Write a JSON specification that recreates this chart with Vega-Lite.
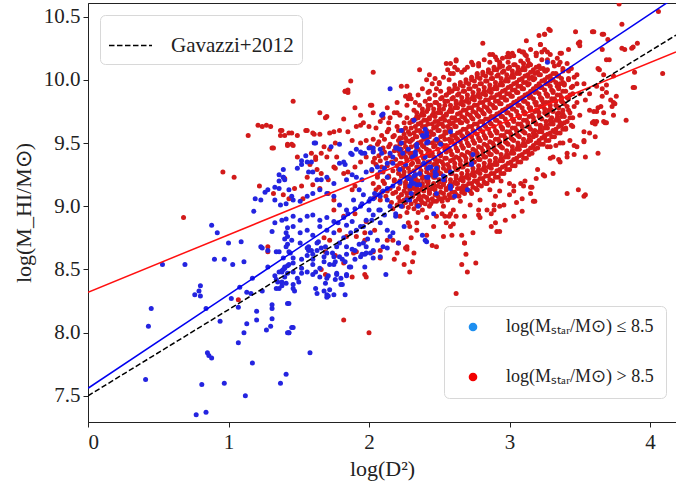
{
"$schema":"https://vega.github.io/schema/vega-lite/v6.json",
"width":588,"height":419,
"autosize":{"type":"none"},
"padding":{"left":88,"top":3,"right":0,"bottom":66},
"background":"white",
"config":{
"view":{"stroke":"#222","strokeWidth":1},
"axis":{"labelFont":"Liberation Serif","labelFontSize":21,"labelColor":"#222","titleFont":"Liberation Serif","titleFontSize":22,"titleColor":"#222","titleFontWeight":"normal","tickColor":"#222","domainColor":"#222","tickSize":5,"grid":false},
"legend":{"labelFont":"Liberation Serif","labelFontSize":21,"labelColor":"#222"}
},
"datasets":{
"red":[
{"x":2.04,"y":9.07},{"x":2.05,"y":9.13},{"x":2.03,"y":9.18},{"x":2.06,"y":9.23},{"x":2.02,"y":9.28},{"x":2.05,"y":9.33},{"x":2.04,"y":9.38},{"x":2.03,"y":9.44},{"x":2.06,"y":9.49},{"x":2.03,"y":9.53},
{"x":2.08,"y":9.05},{"x":2.09,"y":9.11},{"x":2.07,"y":9.15},{"x":2.10,"y":9.20},{"x":2.06,"y":9.25},{"x":2.09,"y":9.31},{"x":2.08,"y":9.36},{"x":2.07,"y":9.40},{"x":2.10,"y":9.46},{"x":2.07,"y":9.51},{"x":2.09,"y":9.56},
{"x":2.12,"y":9.08},{"x":2.13,"y":9.12},{"x":2.11,"y":9.18},{"x":2.14,"y":9.23},{"x":2.10,"y":9.27},{"x":2.13,"y":9.32},{"x":2.12,"y":9.38},{"x":2.11,"y":9.43},{"x":2.14,"y":9.47},{"x":2.11,"y":9.53},{"x":2.13,"y":9.59},
{"x":2.16,"y":9.03},{"x":2.17,"y":9.10},{"x":2.15,"y":9.14},{"x":2.18,"y":9.20},{"x":2.14,"y":9.24},{"x":2.17,"y":9.28},{"x":2.16,"y":9.35},{"x":2.15,"y":9.40},{"x":2.18,"y":9.44},{"x":2.15,"y":9.49},{"x":2.17,"y":9.55},{"x":2.14,"y":9.61},
{"x":2.20,"y":9.01},{"x":2.21,"y":9.07},{"x":2.19,"y":9.11},{"x":2.22,"y":9.18},{"x":2.18,"y":9.21},{"x":2.21,"y":9.26},{"x":2.20,"y":9.32},{"x":2.19,"y":9.37},{"x":2.22,"y":9.41},{"x":2.19,"y":9.47},{"x":2.21,"y":9.52},{"x":2.18,"y":9.56},{"x":2.20,"y":9.63},
{"x":2.24,"y":9.00},{"x":2.25,"y":9.05},{"x":2.23,"y":9.09},{"x":2.26,"y":9.15},{"x":2.22,"y":9.20},{"x":2.25,"y":9.24},{"x":2.24,"y":9.30},{"x":2.23,"y":9.34},{"x":2.26,"y":9.39},{"x":2.23,"y":9.45},{"x":2.25,"y":9.50},{"x":2.22,"y":9.54},{"x":2.24,"y":9.60},{"x":2.25,"y":9.66},
{"x":2.28,"y":8.99},{"x":2.29,"y":9.06},{"x":2.27,"y":9.10},{"x":2.30,"y":9.16},{"x":2.26,"y":9.19},{"x":2.29,"y":9.23},{"x":2.28,"y":9.30},{"x":2.27,"y":9.36},{"x":2.30,"y":9.39},{"x":2.27,"y":9.44},{"x":2.29,"y":9.51},{"x":2.26,"y":9.54},{"x":2.28,"y":9.59},{"x":2.29,"y":9.66},{"x":2.27,"y":9.70},
{"x":2.32,"y":8.98},{"x":2.33,"y":9.04},{"x":2.31,"y":9.08},{"x":2.34,"y":9.13},{"x":2.30,"y":9.18},{"x":2.33,"y":9.22},{"x":2.32,"y":9.28},{"x":2.31,"y":9.34},{"x":2.34,"y":9.37},{"x":2.31,"y":9.42},{"x":2.33,"y":9.48},{"x":2.30,"y":9.52},{"x":2.32,"y":9.58},{"x":2.33,"y":9.63},{"x":2.31,"y":9.67},{"x":2.34,"y":9.71},{"x":2.32,"y":9.76},
{"x":2.36,"y":9.01},{"x":2.37,"y":9.05},{"x":2.35,"y":9.10},{"x":2.38,"y":9.16},{"x":2.34,"y":9.20},{"x":2.37,"y":9.25},{"x":2.36,"y":9.31},{"x":2.35,"y":9.36},{"x":2.38,"y":9.40},{"x":2.35,"y":9.45},{"x":2.37,"y":9.51},{"x":2.34,"y":9.55},{"x":2.36,"y":9.60},{"x":2.37,"y":9.66},{"x":2.35,"y":9.70},{"x":2.38,"y":9.74},{"x":2.36,"y":9.80},
{"x":2.40,"y":9.02},{"x":2.41,"y":9.07},{"x":2.39,"y":9.12},{"x":2.42,"y":9.18},{"x":2.38,"y":9.22},{"x":2.41,"y":9.27},{"x":2.40,"y":9.33},{"x":2.39,"y":9.38},{"x":2.42,"y":9.42},{"x":2.39,"y":9.47},{"x":2.41,"y":9.53},{"x":2.38,"y":9.58},{"x":2.40,"y":9.63},{"x":2.41,"y":9.68},{"x":2.39,"y":9.72},{"x":2.42,"y":9.77},{"x":2.40,"y":9.83},
{"x":2.44,"y":9.02},{"x":2.45,"y":9.06},{"x":2.43,"y":9.11},{"x":2.46,"y":9.16},{"x":2.42,"y":9.20},{"x":2.45,"y":9.25},{"x":2.44,"y":9.30},{"x":2.43,"y":9.35},{"x":2.46,"y":9.39},{"x":2.43,"y":9.44},{"x":2.45,"y":9.50},{"x":2.42,"y":9.55},{"x":2.44,"y":9.59},{"x":2.45,"y":9.65},{"x":2.43,"y":9.69},{"x":2.46,"y":9.74},{"x":2.44,"y":9.80},{"x":2.43,"y":9.85},
{"x":2.48,"y":9.04},{"x":2.49,"y":9.08},{"x":2.47,"y":9.13},{"x":2.50,"y":9.19},{"x":2.46,"y":9.23},{"x":2.49,"y":9.28},{"x":2.48,"y":9.34},{"x":2.47,"y":9.38},{"x":2.50,"y":9.42},{"x":2.47,"y":9.48},{"x":2.49,"y":9.52},{"x":2.46,"y":9.57},{"x":2.48,"y":9.63},{"x":2.49,"y":9.67},{"x":2.47,"y":9.71},{"x":2.50,"y":9.77},{"x":2.48,"y":9.82},{"x":2.47,"y":9.88},
{"x":2.52,"y":9.04},{"x":2.53,"y":9.10},{"x":2.51,"y":9.15},{"x":2.54,"y":9.20},{"x":2.50,"y":9.26},{"x":2.53,"y":9.30},{"x":2.52,"y":9.35},{"x":2.51,"y":9.41},{"x":2.54,"y":9.45},{"x":2.51,"y":9.50},{"x":2.53,"y":9.56},{"x":2.50,"y":9.60},{"x":2.52,"y":9.65},{"x":2.53,"y":9.71},{"x":2.51,"y":9.74},{"x":2.54,"y":9.80},{"x":2.52,"y":9.86},{"x":2.51,"y":9.91},
{"x":2.56,"y":9.05},{"x":2.57,"y":9.09},{"x":2.55,"y":9.14},{"x":2.58,"y":9.18},{"x":2.54,"y":9.23},{"x":2.57,"y":9.29},{"x":2.56,"y":9.33},{"x":2.55,"y":9.38},{"x":2.58,"y":9.44},{"x":2.55,"y":9.48},{"x":2.57,"y":9.53},{"x":2.54,"y":9.59},{"x":2.56,"y":9.63},{"x":2.57,"y":9.67},{"x":2.55,"y":9.73},{"x":2.58,"y":9.77},{"x":2.56,"y":9.83},{"x":2.55,"y":9.88},{"x":2.57,"y":9.93},
{"x":2.60,"y":9.07},{"x":2.61,"y":9.11},{"x":2.59,"y":9.16},{"x":2.62,"y":9.22},{"x":2.58,"y":9.26},{"x":2.61,"y":9.31},{"x":2.60,"y":9.37},{"x":2.59,"y":9.41},{"x":2.62,"y":9.46},{"x":2.59,"y":9.52},{"x":2.61,"y":9.56},{"x":2.58,"y":9.61},{"x":2.60,"y":9.66},{"x":2.61,"y":9.70},{"x":2.59,"y":9.75},{"x":2.62,"y":9.81},{"x":2.60,"y":9.86},{"x":2.59,"y":9.91},{"x":2.61,"y":9.96},
{"x":2.64,"y":9.08},{"x":2.65,"y":9.14},{"x":2.63,"y":9.18},{"x":2.66,"y":9.23},{"x":2.62,"y":9.29},{"x":2.65,"y":9.33},{"x":2.64,"y":9.38},{"x":2.63,"y":9.44},{"x":2.66,"y":9.48},{"x":2.63,"y":9.53},{"x":2.65,"y":9.59},{"x":2.62,"y":9.63},{"x":2.64,"y":9.68},{"x":2.65,"y":9.74},{"x":2.63,"y":9.78},{"x":2.66,"y":9.83},{"x":2.64,"y":9.89},{"x":2.63,"y":9.93},{"x":2.65,"y":9.98},
{"x":2.68,"y":9.10},{"x":2.69,"y":9.16},{"x":2.67,"y":9.20},{"x":2.70,"y":9.25},{"x":2.66,"y":9.31},{"x":2.69,"y":9.35},{"x":2.68,"y":9.40},{"x":2.67,"y":9.46},{"x":2.70,"y":9.50},{"x":2.67,"y":9.55},{"x":2.69,"y":9.61},{"x":2.66,"y":9.66},{"x":2.68,"y":9.70},{"x":2.69,"y":9.76},{"x":2.67,"y":9.80},{"x":2.70,"y":9.85},{"x":2.68,"y":9.91},{"x":2.67,"y":9.95},{"x":2.69,"y":10.00},
{"x":2.72,"y":9.12},{"x":2.73,"y":9.18},{"x":2.71,"y":9.22},{"x":2.74,"y":9.27},{"x":2.70,"y":9.33},{"x":2.73,"y":9.37},{"x":2.72,"y":9.42},{"x":2.71,"y":9.48},{"x":2.74,"y":9.52},{"x":2.71,"y":9.57},{"x":2.73,"y":9.63},{"x":2.70,"y":9.67},{"x":2.72,"y":9.72},{"x":2.73,"y":9.78},{"x":2.71,"y":9.82},{"x":2.74,"y":9.87},{"x":2.72,"y":9.93},{"x":2.71,"y":9.97},{"x":2.73,"y":10.02},
{"x":2.76,"y":9.14},{"x":2.77,"y":9.20},{"x":2.75,"y":9.24},{"x":2.78,"y":9.29},{"x":2.74,"y":9.35},{"x":2.77,"y":9.39},{"x":2.76,"y":9.44},{"x":2.75,"y":9.50},{"x":2.78,"y":9.54},{"x":2.75,"y":9.59},{"x":2.77,"y":9.65},{"x":2.74,"y":9.69},{"x":2.76,"y":9.74},{"x":2.77,"y":9.80},{"x":2.75,"y":9.84},{"x":2.78,"y":9.89},{"x":2.76,"y":9.95},{"x":2.75,"y":9.99},{"x":2.77,"y":10.04},
{"x":2.80,"y":9.16},{"x":2.81,"y":9.22},{"x":2.79,"y":9.26},{"x":2.82,"y":9.31},{"x":2.78,"y":9.37},{"x":2.81,"y":9.41},{"x":2.80,"y":9.46},{"x":2.79,"y":9.52},{"x":2.82,"y":9.56},{"x":2.79,"y":9.61},{"x":2.81,"y":9.67},{"x":2.78,"y":9.71},{"x":2.80,"y":9.76},{"x":2.81,"y":9.82},{"x":2.79,"y":9.86},{"x":2.82,"y":9.91},{"x":2.80,"y":9.97},{"x":2.79,"y":10.01},{"x":2.81,"y":10.06},
{"x":2.84,"y":9.18},{"x":2.85,"y":9.24},{"x":2.83,"y":9.28},{"x":2.86,"y":9.33},{"x":2.82,"y":9.39},{"x":2.85,"y":9.43},{"x":2.84,"y":9.48},{"x":2.83,"y":9.54},{"x":2.86,"y":9.58},{"x":2.83,"y":9.63},{"x":2.85,"y":9.69},{"x":2.82,"y":9.73},{"x":2.84,"y":9.78},{"x":2.85,"y":9.84},{"x":2.83,"y":9.88},{"x":2.86,"y":9.93},{"x":2.84,"y":9.99},{"x":2.83,"y":10.03},{"x":2.85,"y":10.08},
{"x":2.88,"y":9.20},{"x":2.89,"y":9.26},{"x":2.87,"y":9.30},{"x":2.90,"y":9.35},{"x":2.86,"y":9.41},{"x":2.89,"y":9.45},{"x":2.88,"y":9.50},{"x":2.87,"y":9.56},{"x":2.90,"y":9.60},{"x":2.87,"y":9.65},{"x":2.89,"y":9.71},{"x":2.86,"y":9.75},{"x":2.88,"y":9.80},{"x":2.89,"y":9.86},{"x":2.87,"y":9.90},{"x":2.90,"y":9.95},{"x":2.88,"y":10.01},{"x":2.87,"y":10.05},{"x":2.89,"y":10.10},
{"x":2.92,"y":9.23},{"x":2.93,"y":9.29},{"x":2.91,"y":9.33},{"x":2.94,"y":9.38},{"x":2.90,"y":9.44},{"x":2.93,"y":9.48},{"x":2.92,"y":9.53},{"x":2.91,"y":9.59},{"x":2.94,"y":9.63},{"x":2.91,"y":9.68},{"x":2.93,"y":9.74},{"x":2.90,"y":9.78},{"x":2.92,"y":9.83},{"x":2.93,"y":9.89},{"x":2.91,"y":9.93},{"x":2.94,"y":9.98},{"x":2.92,"y":10.04},{"x":2.91,"y":10.08},{"x":2.93,"y":10.12},
{"x":2.96,"y":9.26},{"x":2.97,"y":9.32},{"x":2.95,"y":9.36},{"x":2.98,"y":9.41},{"x":2.94,"y":9.47},{"x":2.97,"y":9.51},{"x":2.96,"y":9.56},{"x":2.95,"y":9.62},{"x":2.98,"y":9.66},{"x":2.95,"y":9.71},{"x":2.97,"y":9.77},{"x":2.94,"y":9.81},{"x":2.96,"y":9.86},{"x":2.97,"y":9.92},{"x":2.95,"y":9.96},{"x":2.98,"y":10.01},{"x":2.96,"y":10.07},{"x":2.95,"y":10.11},
{"x":3.00,"y":9.29},{"x":3.01,"y":9.35},{"x":2.99,"y":9.39},{"x":3.02,"y":9.44},{"x":2.98,"y":9.50},{"x":3.01,"y":9.54},{"x":3.00,"y":9.59},{"x":2.99,"y":9.65},{"x":3.02,"y":9.69},{"x":2.99,"y":9.74},{"x":3.01,"y":9.80},{"x":2.98,"y":9.84},{"x":3.00,"y":9.89},{"x":3.01,"y":9.95},{"x":2.99,"y":9.99},{"x":3.02,"y":10.04},{"x":3.00,"y":10.10},{"x":2.99,"y":10.14},
{"x":3.04,"y":9.32},{"x":3.05,"y":9.38},{"x":3.03,"y":9.42},{"x":3.06,"y":9.47},{"x":3.02,"y":9.53},{"x":3.05,"y":9.57},{"x":3.04,"y":9.62},{"x":3.03,"y":9.68},{"x":3.06,"y":9.72},{"x":3.03,"y":9.77},{"x":3.05,"y":9.83},{"x":3.02,"y":9.87},{"x":3.04,"y":9.92},{"x":3.05,"y":9.98},{"x":3.03,"y":10.02},{"x":3.06,"y":10.07},{"x":3.04,"y":10.12},
{"x":3.08,"y":9.35},{"x":3.09,"y":9.41},{"x":3.07,"y":9.45},{"x":3.10,"y":9.50},{"x":3.06,"y":9.56},{"x":3.09,"y":9.60},{"x":3.08,"y":9.65},{"x":3.07,"y":9.71},{"x":3.10,"y":9.75},{"x":3.07,"y":9.80},{"x":3.09,"y":9.86},{"x":3.06,"y":9.90},{"x":3.08,"y":9.95},{"x":3.09,"y":10.01},{"x":3.07,"y":10.05},{"x":3.10,"y":10.10},{"x":3.08,"y":10.15},
{"x":3.12,"y":9.38},{"x":3.13,"y":9.44},{"x":3.11,"y":9.48},{"x":3.14,"y":9.53},{"x":3.10,"y":9.59},{"x":3.13,"y":9.63},{"x":3.12,"y":9.68},{"x":3.11,"y":9.74},{"x":3.14,"y":9.78},{"x":3.11,"y":9.83},{"x":3.13,"y":9.89},{"x":3.10,"y":9.93},{"x":3.12,"y":9.98},{"x":3.13,"y":10.04},{"x":3.11,"y":10.08},{"x":3.14,"y":10.13},
{"x":3.16,"y":9.42},{"x":3.17,"y":9.48},{"x":3.15,"y":9.52},{"x":3.18,"y":9.57},{"x":3.14,"y":9.63},{"x":3.17,"y":9.67},{"x":3.16,"y":9.72},{"x":3.15,"y":9.78},{"x":3.18,"y":9.82},{"x":3.15,"y":9.87},{"x":3.17,"y":9.93},{"x":3.14,"y":9.97},{"x":3.16,"y":10.02},{"x":3.17,"y":10.08},{"x":3.15,"y":10.12},
{"x":3.20,"y":9.46},{"x":3.21,"y":9.52},{"x":3.19,"y":9.56},{"x":3.22,"y":9.61},{"x":3.18,"y":9.67},{"x":3.21,"y":9.71},{"x":3.20,"y":9.76},{"x":3.19,"y":9.82},{"x":3.22,"y":9.86},{"x":3.19,"y":9.91},{"x":3.21,"y":9.97},{"x":3.18,"y":10.01},{"x":3.20,"y":10.06},{"x":3.21,"y":10.11},
{"x":3.24,"y":9.49},{"x":3.25,"y":9.55},{"x":3.23,"y":9.59},{"x":3.26,"y":9.64},{"x":3.22,"y":9.70},{"x":3.25,"y":9.74},{"x":3.24,"y":9.79},{"x":3.23,"y":9.85},{"x":3.26,"y":9.89},{"x":3.23,"y":9.94},{"x":3.25,"y":10.00},{"x":3.22,"y":10.04},{"x":3.24,"y":10.09},
{"x":3.28,"y":9.52},{"x":3.29,"y":9.58},{"x":3.27,"y":9.62},{"x":3.30,"y":9.67},{"x":3.26,"y":9.73},{"x":3.29,"y":9.77},{"x":3.28,"y":9.82},{"x":3.27,"y":9.88},{"x":3.30,"y":9.92},{"x":3.27,"y":9.97},{"x":3.29,"y":10.03},{"x":3.26,"y":10.07},
{"x":3.32,"y":9.55},{"x":3.33,"y":9.61},{"x":3.31,"y":9.65},{"x":3.34,"y":9.70},{"x":3.30,"y":9.76},{"x":3.33,"y":9.80},{"x":3.32,"y":9.85},{"x":3.31,"y":9.91},{"x":3.34,"y":9.95},{"x":3.31,"y":10.00},{"x":3.33,"y":10.05},
{"x":3.36,"y":9.58},{"x":3.37,"y":9.64},{"x":3.35,"y":9.68},{"x":3.38,"y":9.73},{"x":3.34,"y":9.79},{"x":3.37,"y":9.83},{"x":3.36,"y":9.88},{"x":3.35,"y":9.94},{"x":3.38,"y":9.98},{"x":3.35,"y":10.03},
{"x":3.40,"y":9.61},{"x":3.41,"y":9.67},{"x":3.39,"y":9.71},{"x":3.42,"y":9.76},{"x":3.38,"y":9.82},{"x":3.41,"y":9.86},{"x":3.40,"y":9.91},{"x":3.39,"y":9.97},{"x":3.42,"y":10.01},
{"x":3.44,"y":9.64},{"x":3.45,"y":9.70},{"x":3.43,"y":9.74},{"x":3.46,"y":9.79},{"x":3.42,"y":9.85},{"x":3.45,"y":9.89},{"x":3.44,"y":9.94},
{"x":2.22,"y":9.04},{"x":2.23,"y":9.09},{"x":2.21,"y":9.14},{"x":2.22,"y":9.20},{"x":2.23,"y":9.24},{"x":2.21,"y":9.29},{"x":2.22,"y":9.34},{"x":2.23,"y":9.39},{"x":2.21,"y":9.44},{"x":2.22,"y":9.49},{"x":2.23,"y":9.54},{"x":2.21,"y":9.60},
{"x":2.26,"y":9.03},{"x":2.27,"y":9.07},{"x":2.25,"y":9.12},{"x":2.26,"y":9.17},{"x":2.27,"y":9.22},{"x":2.25,"y":9.27},{"x":2.26,"y":9.32},{"x":2.27,"y":9.37},{"x":2.25,"y":9.42},{"x":2.26,"y":9.47},{"x":2.27,"y":9.52},{"x":2.25,"y":9.57},{"x":2.26,"y":9.62},
{"x":2.30,"y":9.02},{"x":2.31,"y":9.08},{"x":2.29,"y":9.13},{"x":2.30,"y":9.18},{"x":2.31,"y":9.21},{"x":2.29,"y":9.27},{"x":2.30,"y":9.33},{"x":2.31,"y":9.38},{"x":2.29,"y":9.42},{"x":2.30,"y":9.47},{"x":2.31,"y":9.53},{"x":2.29,"y":9.57},{"x":2.30,"y":9.62},{"x":2.31,"y":9.68},
{"x":2.34,"y":9.01},{"x":2.35,"y":9.06},{"x":2.33,"y":9.10},{"x":2.34,"y":9.15},{"x":2.35,"y":9.20},{"x":2.33,"y":9.25},{"x":2.34,"y":9.31},{"x":2.35,"y":9.35},{"x":2.33,"y":9.40},{"x":2.34,"y":9.45},{"x":2.35,"y":9.50},{"x":2.33,"y":9.55},{"x":2.34,"y":9.60},{"x":2.35,"y":9.65},{"x":2.33,"y":9.69},{"x":2.34,"y":9.74},
{"x":2.38,"y":9.03},{"x":2.39,"y":9.08},{"x":2.37,"y":9.13},{"x":2.38,"y":9.18},{"x":2.39,"y":9.23},{"x":2.37,"y":9.28},{"x":2.38,"y":9.33},{"x":2.39,"y":9.38},{"x":2.37,"y":9.43},{"x":2.38,"y":9.48},{"x":2.39,"y":9.53},{"x":2.37,"y":9.58},{"x":2.38,"y":9.63},{"x":2.39,"y":9.68},{"x":2.37,"y":9.72},{"x":2.38,"y":9.77},
{"x":2.42,"y":9.05},{"x":2.43,"y":9.10},{"x":2.41,"y":9.15},{"x":2.42,"y":9.20},{"x":2.43,"y":9.25},{"x":2.41,"y":9.30},{"x":2.42,"y":9.35},{"x":2.43,"y":9.40},{"x":2.41,"y":9.45},{"x":2.42,"y":9.50},{"x":2.43,"y":9.55},{"x":2.41,"y":9.60},{"x":2.42,"y":9.65},{"x":2.43,"y":9.70},{"x":2.41,"y":9.75},{"x":2.42,"y":9.80},
{"x":2.46,"y":9.04},{"x":2.47,"y":9.09},{"x":2.45,"y":9.14},{"x":2.46,"y":9.18},{"x":2.47,"y":9.23},{"x":2.45,"y":9.28},{"x":2.46,"y":9.33},{"x":2.47,"y":9.37},{"x":2.45,"y":9.42},{"x":2.46,"y":9.47},{"x":2.47,"y":9.52},{"x":2.45,"y":9.57},{"x":2.46,"y":9.62},{"x":2.47,"y":9.67},{"x":2.45,"y":9.72},{"x":2.46,"y":9.77},{"x":2.47,"y":9.82},
{"x":2.50,"y":9.06},{"x":2.51,"y":9.11},{"x":2.49,"y":9.16},{"x":2.50,"y":9.21},{"x":2.51,"y":9.26},{"x":2.49,"y":9.31},{"x":2.50,"y":9.36},{"x":2.51,"y":9.40},{"x":2.49,"y":9.45},{"x":2.50,"y":9.50},{"x":2.51,"y":9.55},{"x":2.49,"y":9.60},{"x":2.50,"y":9.65},{"x":2.51,"y":9.69},{"x":2.49,"y":9.74},{"x":2.50,"y":9.80},{"x":2.51,"y":9.85},
{"x":2.54,"y":9.07},{"x":2.55,"y":9.13},{"x":2.53,"y":9.18},{"x":2.54,"y":9.23},{"x":2.55,"y":9.28},{"x":2.53,"y":9.33},{"x":2.54,"y":9.38},{"x":2.55,"y":9.43},{"x":2.53,"y":9.48},{"x":2.54,"y":9.53},{"x":2.55,"y":9.58},{"x":2.53,"y":9.63},{"x":2.54,"y":9.68},{"x":2.55,"y":9.72},{"x":2.53,"y":9.77},{"x":2.54,"y":9.83},{"x":2.55,"y":9.88},
{"x":2.58,"y":9.07},{"x":2.59,"y":9.11},{"x":2.57,"y":9.16},{"x":2.58,"y":9.21},{"x":2.59,"y":9.26},{"x":2.57,"y":9.31},{"x":2.58,"y":9.36},{"x":2.59,"y":9.41},{"x":2.57,"y":9.46},{"x":2.58,"y":9.51},{"x":2.59,"y":9.56},{"x":2.57,"y":9.61},{"x":2.58,"y":9.65},{"x":2.59,"y":9.70},{"x":2.57,"y":9.75},{"x":2.58,"y":9.80},{"x":2.59,"y":9.85},{"x":2.57,"y":9.90},
{"x":2.62,"y":9.09},{"x":2.63,"y":9.14},{"x":2.61,"y":9.19},{"x":2.62,"y":9.24},{"x":2.63,"y":9.29},{"x":2.61,"y":9.34},{"x":2.62,"y":9.39},{"x":2.63,"y":9.44},{"x":2.61,"y":9.49},{"x":2.62,"y":9.54},{"x":2.63,"y":9.58},{"x":2.61,"y":9.63},{"x":2.62,"y":9.68},{"x":2.63,"y":9.73},{"x":2.61,"y":9.78},{"x":2.62,"y":9.83},{"x":2.63,"y":9.88},{"x":2.61,"y":9.93},
{"x":2.66,"y":9.11},{"x":2.67,"y":9.16},{"x":2.65,"y":9.21},{"x":2.66,"y":9.26},{"x":2.67,"y":9.31},{"x":2.65,"y":9.36},{"x":2.66,"y":9.41},{"x":2.67,"y":9.46},{"x":2.65,"y":9.51},{"x":2.66,"y":9.56},{"x":2.67,"y":9.61},{"x":2.65,"y":9.66},{"x":2.66,"y":9.71},{"x":2.67,"y":9.76},{"x":2.65,"y":9.81},{"x":2.66,"y":9.86},{"x":2.67,"y":9.91},{"x":2.65,"y":9.96},
{"x":2.70,"y":9.13},{"x":2.71,"y":9.18},{"x":2.69,"y":9.23},{"x":2.70,"y":9.28},{"x":2.71,"y":9.33},{"x":2.69,"y":9.38},{"x":2.70,"y":9.43},{"x":2.71,"y":9.48},{"x":2.69,"y":9.53},{"x":2.70,"y":9.58},{"x":2.71,"y":9.63},{"x":2.69,"y":9.68},{"x":2.70,"y":9.73},{"x":2.71,"y":9.78},{"x":2.69,"y":9.83},{"x":2.70,"y":9.88},{"x":2.71,"y":9.93},{"x":2.69,"y":9.98},
{"x":2.74,"y":9.15},{"x":2.75,"y":9.20},{"x":2.73,"y":9.25},{"x":2.74,"y":9.30},{"x":2.75,"y":9.35},{"x":2.73,"y":9.40},{"x":2.74,"y":9.45},{"x":2.75,"y":9.50},{"x":2.73,"y":9.55},{"x":2.74,"y":9.60},{"x":2.75,"y":9.65},{"x":2.73,"y":9.70},{"x":2.74,"y":9.75},{"x":2.75,"y":9.80},{"x":2.73,"y":9.85},{"x":2.74,"y":9.90},{"x":2.75,"y":9.95},{"x":2.73,"y":10.00},
{"x":2.78,"y":9.17},{"x":2.79,"y":9.22},{"x":2.77,"y":9.27},{"x":2.78,"y":9.32},{"x":2.79,"y":9.37},{"x":2.77,"y":9.42},{"x":2.78,"y":9.47},{"x":2.79,"y":9.52},{"x":2.77,"y":9.57},{"x":2.78,"y":9.62},{"x":2.79,"y":9.67},{"x":2.77,"y":9.72},{"x":2.78,"y":9.77},{"x":2.79,"y":9.82},{"x":2.77,"y":9.87},{"x":2.78,"y":9.92},{"x":2.79,"y":9.97},{"x":2.77,"y":10.02},
{"x":2.82,"y":9.19},{"x":2.83,"y":9.24},{"x":2.81,"y":9.29},{"x":2.82,"y":9.34},{"x":2.83,"y":9.39},{"x":2.81,"y":9.44},{"x":2.82,"y":9.49},{"x":2.83,"y":9.54},{"x":2.81,"y":9.59},{"x":2.82,"y":9.64},{"x":2.83,"y":9.69},{"x":2.81,"y":9.74},{"x":2.82,"y":9.79},{"x":2.83,"y":9.84},{"x":2.81,"y":9.89},{"x":2.82,"y":9.94},{"x":2.83,"y":9.99},{"x":2.81,"y":10.04},
{"x":2.86,"y":9.21},{"x":2.87,"y":9.26},{"x":2.85,"y":9.31},{"x":2.86,"y":9.36},{"x":2.87,"y":9.41},{"x":2.85,"y":9.46},{"x":2.86,"y":9.51},{"x":2.87,"y":9.56},{"x":2.85,"y":9.61},{"x":2.86,"y":9.66},{"x":2.87,"y":9.71},{"x":2.85,"y":9.76},{"x":2.86,"y":9.81},{"x":2.87,"y":9.86},{"x":2.85,"y":9.91},{"x":2.86,"y":9.96},{"x":2.87,"y":10.01},{"x":2.85,"y":10.06},
{"x":2.90,"y":9.23},{"x":2.91,"y":9.28},{"x":2.89,"y":9.33},{"x":2.90,"y":9.38},{"x":2.91,"y":9.43},{"x":2.89,"y":9.48},{"x":2.90,"y":9.53},{"x":2.91,"y":9.58},{"x":2.89,"y":9.63},{"x":2.90,"y":9.68},{"x":2.91,"y":9.73},{"x":2.89,"y":9.78},{"x":2.90,"y":9.83},{"x":2.91,"y":9.88},{"x":2.89,"y":9.93},{"x":2.90,"y":9.98},{"x":2.91,"y":10.03},{"x":2.89,"y":10.08},
{"x":2.94,"y":9.26},{"x":2.95,"y":9.31},{"x":2.93,"y":9.36},{"x":2.94,"y":9.41},{"x":2.95,"y":9.46},{"x":2.93,"y":9.51},{"x":2.94,"y":9.56},{"x":2.95,"y":9.61},{"x":2.93,"y":9.66},{"x":2.94,"y":9.71},{"x":2.95,"y":9.76},{"x":2.93,"y":9.81},{"x":2.94,"y":9.86},{"x":2.95,"y":9.91},{"x":2.93,"y":9.96},{"x":2.94,"y":10.01},{"x":2.95,"y":10.06},{"x":2.93,"y":10.10},
{"x":2.98,"y":9.29},{"x":2.99,"y":9.34},{"x":2.97,"y":9.39},{"x":2.98,"y":9.44},{"x":2.99,"y":9.49},{"x":2.97,"y":9.54},{"x":2.98,"y":9.59},{"x":2.99,"y":9.64},{"x":2.97,"y":9.69},{"x":2.98,"y":9.74},{"x":2.99,"y":9.79},{"x":2.97,"y":9.84},{"x":2.98,"y":9.89},{"x":2.99,"y":9.94},{"x":2.97,"y":9.99},{"x":2.98,"y":10.04},{"x":2.99,"y":10.09},
{"x":3.02,"y":9.32},{"x":3.03,"y":9.37},{"x":3.01,"y":9.42},{"x":3.02,"y":9.47},{"x":3.03,"y":9.52},{"x":3.01,"y":9.57},{"x":3.02,"y":9.62},{"x":3.03,"y":9.67},{"x":3.01,"y":9.72},{"x":3.02,"y":9.77},{"x":3.03,"y":9.82},{"x":3.01,"y":9.87},{"x":3.02,"y":9.92},{"x":3.03,"y":9.97},{"x":3.01,"y":10.02},{"x":3.02,"y":10.07},{"x":3.03,"y":10.12},
{"x":3.06,"y":9.35},{"x":3.07,"y":9.40},{"x":3.05,"y":9.45},{"x":3.06,"y":9.50},{"x":3.07,"y":9.55},{"x":3.05,"y":9.60},{"x":3.06,"y":9.65},{"x":3.07,"y":9.70},{"x":3.05,"y":9.75},{"x":3.06,"y":9.80},{"x":3.07,"y":9.85},{"x":3.05,"y":9.90},{"x":3.06,"y":9.95},{"x":3.07,"y":10.00},{"x":3.05,"y":10.05},{"x":3.06,"y":10.10},
{"x":3.10,"y":9.38},{"x":3.11,"y":9.43},{"x":3.09,"y":9.48},{"x":3.10,"y":9.53},{"x":3.11,"y":9.58},{"x":3.09,"y":9.63},{"x":3.10,"y":9.68},{"x":3.11,"y":9.73},{"x":3.09,"y":9.78},{"x":3.10,"y":9.83},{"x":3.11,"y":9.88},{"x":3.09,"y":9.93},{"x":3.10,"y":9.98},{"x":3.11,"y":10.03},{"x":3.09,"y":10.08},{"x":3.10,"y":10.13},
{"x":3.14,"y":9.41},{"x":3.15,"y":9.46},{"x":3.13,"y":9.51},{"x":3.14,"y":9.56},{"x":3.15,"y":9.61},{"x":3.13,"y":9.66},{"x":3.14,"y":9.71},{"x":3.15,"y":9.76},{"x":3.13,"y":9.81},{"x":3.14,"y":9.86},{"x":3.15,"y":9.91},{"x":3.13,"y":9.96},{"x":3.14,"y":10.01},{"x":3.15,"y":10.06},{"x":3.13,"y":10.11},
{"x":3.18,"y":9.45},{"x":3.19,"y":9.50},{"x":3.17,"y":9.55},{"x":3.18,"y":9.60},{"x":3.19,"y":9.65},{"x":3.17,"y":9.70},{"x":3.18,"y":9.75},{"x":3.19,"y":9.80},{"x":3.17,"y":9.85},{"x":3.18,"y":9.90},{"x":3.19,"y":9.95},{"x":3.17,"y":10.00},{"x":3.18,"y":10.05},{"x":3.19,"y":10.10},
{"x":3.22,"y":9.49},{"x":3.23,"y":9.54},{"x":3.21,"y":9.59},{"x":3.22,"y":9.64},{"x":3.23,"y":9.69},{"x":3.21,"y":9.74},{"x":3.22,"y":9.79},{"x":3.23,"y":9.84},{"x":3.21,"y":9.89},{"x":3.22,"y":9.94},{"x":3.23,"y":9.99},{"x":3.21,"y":10.04},{"x":3.22,"y":10.09},
{"x":3.26,"y":9.52},{"x":3.27,"y":9.57},{"x":3.25,"y":9.62},{"x":3.26,"y":9.67},{"x":3.27,"y":9.72},{"x":3.25,"y":9.77},{"x":3.26,"y":9.82},{"x":3.27,"y":9.87},{"x":3.25,"y":9.92},{"x":3.26,"y":9.97},{"x":3.27,"y":10.02},{"x":3.25,"y":10.07},
{"x":3.30,"y":9.55},{"x":3.31,"y":9.60},{"x":3.29,"y":9.65},{"x":3.30,"y":9.70},{"x":3.31,"y":9.75},{"x":3.29,"y":9.80},{"x":3.30,"y":9.85},{"x":3.31,"y":9.90},{"x":3.29,"y":9.95},{"x":3.30,"y":10.00},{"x":3.31,"y":10.05},
{"x":3.34,"y":9.58},{"x":3.35,"y":9.63},{"x":3.33,"y":9.68},{"x":3.34,"y":9.73},{"x":3.35,"y":9.78},{"x":3.33,"y":9.83},{"x":3.34,"y":9.88},{"x":3.35,"y":9.93},{"x":3.33,"y":9.98},{"x":3.34,"y":10.03},
{"x":3.38,"y":9.61},{"x":3.39,"y":9.66},{"x":3.37,"y":9.71},{"x":3.38,"y":9.76},{"x":3.39,"y":9.81},{"x":3.37,"y":9.86},{"x":3.38,"y":9.91},{"x":3.39,"y":9.96},{"x":3.37,"y":10.01},
{"x":2.05,"y":9.62},{"x":2.10,"y":9.70},{"x":2.14,"y":9.66},{"x":2.18,"y":9.74},{"x":2.22,"y":9.72},{"x":2.27,"y":9.80},{"x":2.30,"y":9.85},{"x":2.35,"y":9.88},{"x":2.38,"y":9.93},{"x":2.42,"y":9.90},{"x":2.45,"y":9.97},{"x":2.50,"y":9.98},{"x":2.53,"y":10.02},{"x":2.57,"y":10.00},{"x":2.60,"y":10.05},{"x":2.63,"y":10.08},{"x":2.66,"y":10.06},{"x":2.70,"y":10.10},{"x":2.74,"y":10.12},{"x":2.78,"y":10.11},{"x":2.82,"y":10.16},{"x":2.86,"y":10.14},{"x":2.90,"y":10.18},{"x":2.95,"y":10.17},{"x":2.99,"y":10.21},{"x":3.03,"y":10.19},{"x":3.07,"y":10.23},{"x":3.11,"y":10.20},{"x":3.15,"y":10.24},{"x":3.19,"y":10.19},{"x":3.23,"y":10.22},{"x":3.27,"y":10.16},{"x":3.31,"y":10.14},{"x":3.35,"y":10.12},{"x":3.38,"y":10.09},{"x":3.42,"y":10.07},{"x":3.46,"y":10.02},{"x":3.48,"y":9.97},
{"x":2.81,"y":10.29},{"x":3.12,"y":10.31},{"x":3.28,"y":10.40},{"x":3.25,"y":10.36},{"x":3.21,"y":10.35},{"x":3.47,"y":10.38},{"x":3.59,"y":10.38},{"x":3.67,"y":10.36},{"x":3.49,"y":10.29},{"x":3.50,"y":10.27},{"x":3.09,"y":10.22},{"x":3.12,"y":10.19},{"x":3.22,"y":10.28},{"x":3.27,"y":10.22},{"x":3.36,"y":10.21},{"x":3.42,"y":10.24},{"x":3.36,"y":10.14},{"x":2.88,"y":10.20},{"x":2.91,"y":10.16},{"x":2.98,"y":10.18},{"x":3.02,"y":10.21},{"x":2.62,"y":10.16},{"x":2.58,"y":10.13},{"x":2.56,"y":10.08},{"x":2.61,"y":10.10},{"x":2.36,"y":10.08},{"x":2.41,"y":10.00},{"x":2.03,"y":10.06},{"x":1.87,"y":9.99},{"x":1.83,"y":9.91},{"x":1.85,"y":9.92},{"x":2.23,"y":9.95},{"x":2.27,"y":9.95},{"x":2.28,"y":9.85},{"x":2.48,"y":9.93},{"x":2.43,"y":9.91},{"x":2.47,"y":10.01},{"x":2.02,"y":9.80},{"x":1.91,"y":9.63},{"x":1.94,"y":9.64},{"x":1.82,"y":9.69},{"x":1.90,"y":9.78},
{"x":2.55,"y":10.13},{"x":2.62,"y":10.15},{"x":2.73,"y":10.14},{"x":2.78,"y":10.13},{"x":2.86,"y":10.20},{"x":2.93,"y":10.14},{"x":3.00,"y":10.18},{"x":3.10,"y":10.22},{"x":3.13,"y":10.16},{"x":3.19,"y":10.21},{"x":2.43,"y":10.04},{"x":2.50,"y":9.97},{"x":2.58,"y":10.05},{"x":2.68,"y":10.08},{"x":2.77,"y":10.05},
{"x":2.86,"y":9.13},{"x":2.90,"y":9.08},{"x":2.93,"y":9.12},{"x":3.00,"y":9.09},{"x":2.96,"y":9.01},{"x":3.03,"y":9.16},{"x":2.89,"y":9.01},{"x":2.79,"y":9.05},{"x":2.73,"y":9.10},{"x":2.65,"y":9.04},{"x":2.72,"y":9.01},{"x":2.60,"y":8.97},{"x":2.53,"y":9.00},{"x":2.48,"y":8.92},{"x":2.41,"y":8.91},{"x":2.52,"y":8.94},{"x":2.58,"y":8.94},{"x":2.67,"y":9.13},{"x":2.77,"y":9.13},{"x":2.83,"y":9.18},{"x":3.00,"y":9.18},{"x":3.08,"y":9.18},{"x":2.34,"y":8.87},{"x":2.29,"y":8.84},{"x":2.38,"y":8.97},{"x":2.43,"y":9.00},{"x":2.55,"y":8.87},{"x":2.46,"y":8.84},{"x":2.79,"y":8.91},{"x":2.84,"y":8.97},{"x":2.68,"y":8.92},{"x":2.62,"y":9.09},{"x":2.52,"y":9.06},{"x":2.43,"y":9.13},{"x":2.36,"y":9.08},{"x":2.32,"y":9.14},{"x":3.15,"y":9.10},{"x":3.11,"y":9.20},{"x":2.94,"y":9.20},{"x":2.77,"y":9.19},{"x":2.62,"y":9.18},{"x":2.53,"y":9.17},{"x":2.41,"y":9.20},
{"x":3.18,"y":9.04},{"x":3.10,"y":9.16},{"x":3.15,"y":9.15},{"x":3.05,"y":9.03},{"x":3.09,"y":8.96},{"x":2.97,"y":8.89},{"x":2.93,"y":8.80},{"x":2.90,"y":8.87},{"x":2.87,"y":8.94},{"x":2.78,"y":8.93},{"x":2.78,"y":8.97},{"x":2.76,"y":8.55},{"x":2.70,"y":8.48},{"x":2.66,"y":8.54},{"x":2.69,"y":8.62},{"x":2.68,"y":8.71},{"x":2.66,"y":8.77},{"x":2.59,"y":8.77},{"x":2.60,"y":8.86},{"x":2.45,"y":8.69},{"x":2.62,"y":8.31},{"x":2.31,"y":8.56},{"x":2.29,"y":8.48},{"x":2.57,"y":8.92},{"x":2.54,"y":8.92},
{"x":3.17,"y":9.04},{"x":3.09,"y":9.06},{"x":3.03,"y":8.92},{"x":2.91,"y":8.80},{"x":2.87,"y":8.84},{"x":2.74,"y":8.79},{"x":2.68,"y":8.71},{"x":2.53,"y":8.76},{"x":2.48,"y":8.68},{"x":2.27,"y":8.68},{"x":2.41,"y":8.77},{"x":2.58,"y":8.84},{"x":2.62,"y":8.92},{"x":2.89,"y":8.97},{"x":2.93,"y":9.00},{"x":3.03,"y":9.12},{"x":3.19,"y":9.22},{"x":3.24,"y":9.25},{"x":3.31,"y":9.26},{"x":3.36,"y":9.35},{"x":3.41,"y":9.39},{"x":3.48,"y":9.47},{"x":3.53,"y":9.52},{"x":3.57,"y":9.58},
{"x":2.27,"y":8.66},{"x":2.25,"y":8.54},{"x":2.18,"y":8.58},{"x":2.08,"y":8.59},{"x":2.21,"y":8.71},{"x":2.17,"y":8.73},{"x":1.97,"y":8.73},{"x":2.03,"y":8.64},{"x":1.88,"y":8.44},{"x":1.82,"y":8.10},{"x":2.00,"y":8.00},{"x":1.97,"y":8.46},{"x":1.98,"y":8.44},{"x":1.76,"y":8.61},{"x":1.66,"y":8.50},{"x":1.69,"y":8.46},{"x":1.82,"y":8.55},{"x":1.91,"y":8.64},{"x":1.89,"y":8.63},{"x":1.69,"y":8.64},
{"x":3.41,"y":9.10},{"x":3.49,"y":9.13},{"x":3.54,"y":9.09},{"x":3.63,"y":9.42},{"x":3.46,"y":9.41},{"x":3.35,"y":9.37},{"x":3.31,"y":9.39},{"x":3.83,"y":9.68},{"x":3.62,"y":9.67},{"x":3.68,"y":9.66},{"x":3.62,"y":9.75},{"x":3.74,"y":9.82},{"x":3.76,"y":9.87},{"x":3.74,"y":10.03},{"x":3.67,"y":10.04},{"x":3.63,"y":10.09},{"x":3.69,"y":10.16},{"x":3.88,"y":9.94},{"x":4.09,"y":10.05},{"x":3.80,"y":10.25},{"x":3.82,"y":10.24},{"x":3.91,"y":10.29},{"x":3.88,"y":10.26},{"x":4.06,"y":10.54},{"x":3.78,"y":10.60},
{"x":3.80,"y":10.44},{"x":3.60,"y":10.38},{"x":3.66,"y":10.36},{"x":3.70,"y":10.32},{"x":3.25,"y":10.36},{"x":3.29,"y":10.39},{"x":3.50,"y":10.30},{"x":3.87,"y":10.25},{"x":3.66,"y":10.24},{"x":3.71,"y":10.16},{"x":3.64,"y":10.08},{"x":3.89,"y":10.06},{"x":3.89,"y":9.94},{"x":3.69,"y":9.96},{"x":3.66,"y":9.93},{"x":3.69,"y":9.90},{"x":3.75,"y":9.81},{"x":3.73,"y":9.79},{"x":3.67,"y":9.67},{"x":3.60,"y":9.67},{"x":3.61,"y":9.65},{"x":3.65,"y":9.79},{"x":3.60,"y":9.75},
{"x":3.46,"y":9.48},{"x":3.41,"y":9.42},{"x":3.54,"y":9.39},{"x":3.29,"y":9.38},{"x":3.25,"y":9.24},{"x":3.20,"y":9.29},{"x":3.16,"y":9.15},{"x":3.53,"y":9.08},{"x":3.33,"y":9.48},{"x":3.38,"y":9.50},{"x":3.27,"y":9.47},
{"x":3.22,"y":10.28},{"x":3.25,"y":10.24},{"x":3.19,"y":10.21},{"x":3.29,"y":10.20},{"x":3.23,"y":10.16},{"x":3.34,"y":10.17},{"x":3.37,"y":10.21},{"x":3.41,"y":10.13},{"x":3.32,"y":10.11},{"x":3.27,"y":10.08},{"x":3.38,"y":10.07},{"x":3.44,"y":10.09},{"x":3.48,"y":10.04},{"x":3.42,"y":10.00},{"x":3.36,"y":9.97},{"x":3.29,"y":9.99},{"x":3.22,"y":9.95},{"x":3.45,"y":9.95},{"x":3.53,"y":9.97},{"x":3.50,"y":9.89},{"x":3.43,"y":9.88},{"x":3.37,"y":9.85},{"x":3.31,"y":9.84},{"x":3.24,"y":9.82},{"x":3.19,"y":9.76},{"x":3.28,"y":9.76},{"x":3.35,"y":9.74},{"x":3.41,"y":9.79},{"x":3.48,"y":9.82},{"x":3.54,"y":9.84},{"x":3.57,"y":9.89},{"x":3.62,"y":9.95},{"x":3.66,"y":9.87},{"x":3.72,"y":9.84},{"x":3.63,"y":9.78},{"x":3.57,"y":9.76},{"x":3.50,"y":9.72},{"x":3.43,"y":9.70},{"x":3.36,"y":9.66},{"x":3.29,"y":9.68},{"x":3.22,"y":9.63},{"x":3.17,"y":9.58},{"x":3.25,"y":9.56},{"x":3.32,"y":9.59},{"x":3.40,"y":9.62},{"x":3.45,"y":9.63},{"x":3.53,"y":9.59},{"x":3.59,"y":9.66},{"x":3.67,"y":9.74},{"x":3.74,"y":9.72},{"x":3.69,"y":9.66},{"x":3.61,"y":9.55},{"x":3.53,"y":9.51},{"x":3.43,"y":9.52},{"x":3.36,"y":9.50},{"x":3.29,"y":9.47},{"x":3.21,"y":9.50},
{"x":0.68,"y":8.91},{"x":0.96,"y":9.27},{"x":1.04,"y":9.23},{"x":1.14,"y":9.56},{"x":1.27,"y":9.64},{"x":1.30,"y":9.63},{"x":1.37,"y":9.60},{"x":1.31,"y":9.46},{"x":1.42,"y":9.49},{"x":1.22,"y":9.16},{"x":1.40,"y":9.22},{"x":1.43,"y":9.06},{"x":1.28,"y":8.68},{"x":1.28,"y":8.64},{"x":1.07,"y":8.26},{"x":1.46,"y":9.83},{"x":1.65,"y":9.74},{"x":1.69,"y":9.70},{"x":1.21,"y":9.64},{"x":1.24,"y":9.63},{"x":1.37,"y":9.56},{"x":1.40,"y":9.56},{"x":1.43,"y":9.58},{"x":1.49,"y":9.56},{"x":1.55,"y":9.60},{"x":1.61,"y":9.57},{"x":1.65,"y":9.57},{"x":1.32,"y":9.46},{"x":1.42,"y":9.48},{"x":1.46,"y":9.48},{"x":1.32,"y":9.10},
{"x":1.49,"y":9.39},{"x":1.59,"y":9.42},{"x":1.62,"y":9.39},{"x":1.58,"y":9.33},{"x":1.63,"y":9.29},{"x":1.66,"y":9.26},{"x":1.71,"y":9.21},{"x":1.75,"y":9.31},{"x":1.77,"y":9.39},{"x":1.72,"y":9.45},{"x":1.68,"y":9.47},{"x":1.76,"y":9.50},{"x":1.65,"y":9.14},{"x":1.71,"y":9.10},{"x":1.75,"y":9.05},{"x":1.60,"y":9.17},{"x":1.56,"y":9.23},
{"x":1.83,"y":9.91},{"x":1.85,"y":9.90},{"x":1.70,"y":9.71},{"x":1.56,"y":9.60},{"x":1.60,"y":9.58},{"x":1.45,"y":9.58},{"x":1.38,"y":9.60},{"x":1.45,"y":9.49},{"x":1.72,"y":9.58},{"x":1.75,"y":9.59},{"x":1.79,"y":9.60},{"x":1.85,"y":9.59},{"x":1.94,"y":9.72},{"x":2.01,"y":9.80},{"x":2.03,"y":9.74},{"x":1.96,"y":9.66},{"x":2.00,"y":9.63},{"x":1.88,"y":9.52},{"x":1.66,"y":9.42},{"x":1.70,"y":9.39},{"x":1.62,"y":9.37},{"x":1.47,"y":9.14},{"x":1.52,"y":9.16},{"x":1.39,"y":9.09},{"x":1.53,"y":9.06},{"x":1.82,"y":9.26},{"x":1.85,"y":9.27},{"x":1.76,"y":9.30},{"x":1.90,"y":9.16},{"x":1.88,"y":9.13},
{"x":2.13,"y":9.78},{"x":2.20,"y":9.82},{"x":2.26,"y":9.87},{"x":2.29,"y":9.88},{"x":2.33,"y":9.82},{"x":2.15,"y":9.70},{"x":2.20,"y":9.74},{"x":2.08,"y":9.67},
{"x":2.34,"y":8.81},{"x":2.30,"y":8.75},{"x":2.26,"y":8.67},{"x":2.32,"y":8.63},{"x":2.20,"y":8.63},{"x":2.13,"y":8.73},{"x":2.04,"y":8.81},{"x":1.97,"y":8.79},{"x":1.91,"y":8.76},{"x":1.84,"y":8.76},{"x":1.79,"y":8.81},{"x":1.72,"y":8.73},{"x":1.68,"y":8.75},{"x":2.08,"y":8.65},{"x":1.98,"y":8.88},{"x":1.90,"y":8.94},{"x":1.82,"y":8.92},{"x":1.75,"y":8.97},{"x":2.17,"y":8.98},{"x":2.22,"y":8.92},{"x":2.28,"y":8.87},
{"x":1.98,"y":9.39},{"x":1.94,"y":9.35},{"x":1.90,"y":9.31},{"x":2.03,"y":9.35},{"x":1.98,"y":9.52},{"x":2.01,"y":9.47},{"x":1.94,"y":9.50},{"x":2.35,"y":8.95},{"x":2.27,"y":8.95}
],
"blue":[
{"x":0.88,"y":8.85},{"x":0.92,"y":8.79},{"x":1.00,"y":8.71},{"x":1.09,"y":8.72},{"x":0.53,"y":8.54},{"x":0.69,"y":8.54},{"x":0.90,"y":8.58},{"x":0.97,"y":8.58},{"x":1.03,"y":8.54},{"x":1.11,"y":8.56},{"x":0.80,"y":8.37},{"x":0.76,"y":8.30},{"x":0.79,"y":8.33},{"x":0.80,"y":8.29},
{"x":0.45,"y":8.19},{"x":0.43,"y":8.05},{"x":0.84,"y":8.19},{"x":1.02,"y":8.27},{"x":1.08,"y":8.36},{"x":1.07,"y":8.20},{"x":0.94,"y":8.09},{"x":1.13,"y":8.07},{"x":1.11,"y":8.00},{"x":1.07,"y":7.92},{"x":1.13,"y":8.32},{"x":1.16,"y":8.31},{"x":1.17,"y":8.43},{"x":1.20,"y":8.17},{"x":1.20,"y":8.10},{"x":1.24,"y":8.33},{"x":1.28,"y":8.52},{"x":1.27,"y":8.02},{"x":1.30,"y":8.05},{"x":1.31,"y":8.11},{"x":1.31,"y":8.19},{"x":1.31,"y":8.22},{"x":1.33,"y":8.45},{"x":1.35,"y":8.40},{"x":1.36,"y":8.35},{"x":0.85,"y":7.84},{"x":0.86,"y":7.82},{"x":0.88,"y":7.80},{"x":0.41,"y":7.63},{"x":0.81,"y":7.59},{"x":0.97,"y":7.60},{"x":1.17,"y":7.76},{"x":1.12,"y":7.50},{"x":0.77,"y":7.35},{"x":0.84,"y":7.37},{"x":1.37,"y":7.60},{"x":1.41,"y":7.67},{"x":1.42,"y":8.00},{"x":1.42,"y":8.23},
{"x":1.18,"y":8.96},{"x":1.23,"y":9.05},{"x":1.26,"y":9.11},{"x":1.33,"y":9.05},{"x":1.36,"y":9.14},{"x":1.36,"y":9.20},{"x":1.39,"y":9.23},{"x":1.37,"y":9.01},{"x":1.33,"y":8.87},{"x":1.38,"y":8.89},{"x":1.41,"y":8.90},{"x":1.31,"y":8.80},{"x":1.23,"y":8.68},{"x":1.24,"y":8.67},{"x":1.28,"y":8.65},{"x":1.34,"y":8.64},{"x":1.40,"y":8.74},{"x":1.42,"y":8.76},{"x":1.38,"y":8.49},{"x":1.40,"y":8.51},{"x":1.42,"y":8.53},{"x":1.41,"y":8.39},{"x":1.34,"y":8.35},{"x":1.42,"y":8.70},{"x":1.42,"y":8.83},
{"x":1.34,"y":8.42},{"x":1.38,"y":8.40},{"x":1.40,"y":8.44},{"x":1.42,"y":8.47},{"x":1.36,"y":8.48},{"x":1.43,"y":8.00},{"x":1.46,"y":8.04},{"x":1.58,"y":7.84},
{"x":1.45,"y":8.73},{"x":1.41,"y":8.68},{"x":1.36,"y":8.64},{"x":1.39,"y":8.59},{"x":1.44,"y":8.63},{"x":1.40,"y":8.52},{"x":1.46,"y":8.55},{"x":1.52,"y":8.58},{"x":1.56,"y":8.61},{"x":1.59,"y":8.65},{"x":1.63,"y":8.71},{"x":1.66,"y":8.67},{"x":1.70,"y":8.63},{"x":1.75,"y":8.60},{"x":1.77,"y":8.68},{"x":1.72,"y":8.54},{"x":1.62,"y":8.48},{"x":1.65,"y":8.44},{"x":1.69,"y":8.39},{"x":1.72,"y":8.34},{"x":1.71,"y":8.29},{"x":1.75,"y":8.30},{"x":1.77,"y":8.47},{"x":1.52,"y":8.47},{"x":1.50,"y":8.40},{"x":1.46,"y":8.38},{"x":1.49,"y":8.43},{"x":1.56,"y":8.67},{"x":1.60,"y":8.58},{"x":1.68,"y":8.56},{"x":1.64,"y":8.72},
{"x":1.61,"y":9.50},{"x":1.55,"y":9.40},{"x":1.52,"y":9.36},{"x":1.59,"y":9.35},{"x":1.39,"y":9.29},{"x":1.36,"y":9.25},{"x":1.33,"y":9.15},{"x":1.45,"y":9.08},{"x":1.28,"y":9.13},{"x":1.19,"y":9.06},
{"x":1.62,"y":9.50},{"x":1.73,"y":9.47},{"x":1.79,"y":9.49},{"x":1.52,"y":9.33},{"x":1.56,"y":9.35},{"x":1.49,"y":9.30},{"x":1.57,"y":9.27},{"x":1.60,"y":9.27},{"x":1.63,"y":9.21},{"x":1.66,"y":9.21},{"x":1.70,"y":9.23},{"x":1.75,"y":9.18},{"x":1.79,"y":9.34},{"x":1.83,"y":9.33},{"x":1.88,"y":9.41},{"x":1.91,"y":9.45},{"x":1.95,"y":9.42},{"x":2.00,"y":9.46},{"x":2.03,"y":9.43},{"x":2.08,"y":9.45},{"x":2.09,"y":9.72},{"x":1.91,"y":9.23},{"x":1.95,"y":9.21},{"x":1.88,"y":9.25},{"x":1.84,"y":9.21},{"x":1.98,"y":9.27},{"x":2.02,"y":9.29},{"x":2.06,"y":9.31},{"x":2.08,"y":9.27},{"x":2.13,"y":9.23},{"x":2.11,"y":9.30},{"x":2.17,"y":9.34},{"x":2.22,"y":9.29},{"x":2.26,"y":9.33},{"x":2.20,"y":9.46},{"x":2.23,"y":9.50},{"x":2.15,"y":9.42},
{"x":1.93,"y":9.13},{"x":1.96,"y":9.09},{"x":2.01,"y":9.06},{"x":2.04,"y":9.10},{"x":2.08,"y":9.08},{"x":2.13,"y":9.05},{"x":1.89,"y":9.05},{"x":1.94,"y":9.00},{"x":2.00,"y":8.97},{"x":2.07,"y":8.97},{"x":1.84,"y":8.97},{"x":1.79,"y":9.01},{"x":1.75,"y":9.08},{"x":1.70,"y":9.10},{"x":1.65,"y":9.13},{"x":1.60,"y":9.10},{"x":1.56,"y":9.08},{"x":1.51,"y":9.04},{"x":1.46,"y":9.05},{"x":1.41,"y":9.02},{"x":1.46,"y":8.92},{"x":1.51,"y":8.89},{"x":1.56,"y":8.92},{"x":1.60,"y":8.93},{"x":1.65,"y":8.89},{"x":1.70,"y":8.91},{"x":1.75,"y":8.88},{"x":1.78,"y":8.87},{"x":1.84,"y":8.85},{"x":1.88,"y":8.88},{"x":1.94,"y":8.84},{"x":1.98,"y":8.89},{"x":2.03,"y":8.93},{"x":2.08,"y":8.87},{"x":2.13,"y":8.81},{"x":2.17,"y":8.79},{"x":2.01,"y":8.79},{"x":2.06,"y":8.73},{"x":2.10,"y":8.68},{"x":1.96,"y":8.71},{"x":1.90,"y":8.65},{"x":1.84,"y":8.68},{"x":1.79,"y":8.71},{"x":1.75,"y":8.79},{"x":1.70,"y":8.81},{"x":1.65,"y":8.84},{"x":1.60,"y":8.77},{"x":1.56,"y":8.81},{"x":1.51,"y":8.79},{"x":1.46,"y":8.84},{"x":1.41,"y":8.79},{"x":1.51,"y":8.71},{"x":1.57,"y":8.68},{"x":1.63,"y":8.65},{"x":1.69,"y":8.68},{"x":1.74,"y":8.63},{"x":1.79,"y":8.60},{"x":1.84,"y":8.62},{"x":1.94,"y":8.60},{"x":1.98,"y":8.63},{"x":2.03,"y":8.65},{"x":2.08,"y":8.60},{"x":2.13,"y":8.67},{"x":2.15,"y":8.76},{"x":2.21,"y":8.71},{"x":2.25,"y":8.84},{"x":2.19,"y":8.94},{"x":2.23,"y":9.00},{"x":2.27,"y":9.05},{"x":2.30,"y":9.10},{"x":2.30,"y":9.18},{"x":2.28,"y":9.22},{"x":1.39,"y":9.23},{"x":1.40,"y":9.21},{"x":1.43,"y":9.13},
{"x":1.43,"y":8.23},{"x":1.45,"y":8.04},{"x":1.43,"y":8.00},{"x":1.83,"y":8.30},{"x":1.81,"y":8.38},{"x":1.70,"y":8.28},{"x":1.70,"y":8.30},{"x":1.68,"y":8.33},{"x":1.63,"y":8.31},{"x":1.62,"y":8.35},{"x":1.47,"y":8.33},{"x":1.46,"y":8.35},{"x":1.38,"y":8.37},{"x":1.43,"y":8.54},{"x":1.39,"y":8.50},{"x":1.38,"y":8.48},{"x":1.46,"y":8.48},{"x":1.52,"y":8.51},{"x":1.56,"y":8.48},{"x":1.60,"y":8.46},{"x":1.65,"y":8.51},{"x":1.60,"y":8.54},{"x":1.68,"y":8.60},{"x":1.76,"y":8.56},{"x":1.75,"y":8.54},{"x":1.77,"y":8.46},{"x":1.80,"y":8.43},{"x":1.84,"y":8.46},{"x":1.70,"y":8.43},{"x":1.71,"y":8.45},{"x":1.76,"y":8.42},{"x":1.81,"y":8.58},{"x":1.83,"y":8.56},{"x":1.86,"y":8.52},{"x":1.97,"y":8.52},{"x":1.97,"y":8.62},{"x":2.03,"y":8.59},{"x":2.01,"y":8.63},{"x":2.12,"y":8.46},{"x":1.60,"y":8.62},{"x":1.57,"y":8.65},{"x":1.46,"y":8.59},{"x":1.43,"y":8.64},
{"x":1.80,"y":8.38},{"x":1.84,"y":8.45},{"x":1.87,"y":8.52},{"x":2.41,"y":8.72},{"x":1.90,"y":8.58},{"x":1.95,"y":8.62},{"x":1.93,"y":8.70},{"x":1.98,"y":8.68},{"x":1.88,"y":8.66},{"x":1.99,"y":8.74},
{"x":2.32,"y":9.68},{"x":2.40,"y":9.61},{"x":2.38,"y":9.56},{"x":2.41,"y":9.56},{"x":2.41,"y":9.50},{"x":2.48,"y":9.53},{"x":2.51,"y":9.49},{"x":2.58,"y":9.59},{"x":2.34,"y":9.47},{"x":2.33,"y":9.43},{"x":2.31,"y":9.39},{"x":2.40,"y":9.39},{"x":2.44,"y":9.31},{"x":2.39,"y":9.34},{"x":2.42,"y":9.30},{"x":2.47,"y":9.27},{"x":2.48,"y":9.30},{"x":2.32,"y":9.24},{"x":2.36,"y":9.26},{"x":2.47,"y":9.24},{"x":2.41,"y":9.23},{"x":2.32,"y":9.18},{"x":2.34,"y":9.17},{"x":2.58,"y":9.16},{"x":2.73,"y":9.34},{"x":2.74,"y":9.41},{"x":2.70,"y":9.13},{"x":2.53,"y":9.24},
{"x":2.15,"y":9.93},{"x":2.10,"y":9.73},{"x":2.41,"y":9.58},{"x":2.39,"y":9.55},{"x":2.42,"y":9.51},{"x":2.34,"y":9.49},{"x":2.28,"y":9.45},{"x":2.24,"y":9.42},{"x":2.23,"y":9.60},{"x":2.33,"y":9.41},{"x":2.19,"y":9.46},{"x":2.22,"y":9.45},{"x":2.17,"y":9.39},{"x":2.09,"y":9.42},{"x":2.13,"y":9.34},{"x":2.03,"y":9.46},{"x":1.97,"y":9.42},{"x":1.94,"y":9.43},{"x":1.87,"y":9.42},{"x":1.82,"y":9.35},{"x":2.73,"y":9.33},{"x":2.58,"y":9.27},{"x":2.53,"y":9.21},{"x":2.48,"y":9.25},{"x":2.43,"y":9.31},{"x":2.42,"y":9.23},{"x":2.33,"y":9.25},{"x":2.30,"y":9.21},{"x":2.36,"y":9.17},{"x":2.29,"y":9.16},{"x":2.22,"y":9.19},{"x":2.17,"y":9.16},{"x":2.13,"y":9.14},{"x":2.10,"y":9.12},{"x":2.07,"y":9.09},{"x":2.03,"y":9.06},{"x":2.00,"y":9.04},{"x":1.95,"y":9.02},{"x":1.90,"y":8.98},{"x":1.85,"y":8.94},{"x":1.82,"y":8.91},{"x":2.15,"y":9.00},{"x":2.19,"y":8.92},{"x":2.11,"y":8.93},{"x":2.08,"y":8.97},{"x":2.02,"y":8.89},{"x":1.96,"y":8.84},{"x":1.91,"y":8.81},{"x":1.87,"y":8.79},{"x":1.82,"y":8.75},{"x":2.29,"y":9.05},{"x":2.58,"y":9.14},{"x":2.61,"y":9.08},{"x":2.48,"y":9.10},{"x":2.38,"y":8.77},{"x":2.40,"y":8.73},{"x":2.46,"y":8.94},{"x":2.35,"y":9.00},{"x":3.27,"y":10.14}
],
"fitb":[{"x":0,"y":7.56},{"x":4.185,"y":10.657}],
"fitr":[{"x":0,"y":8.32},{"x":4.185,"y":10.22}],
"gav":[{"x":0,"y":7.5},{"x":4.185,"y":10.354}]
},
"layer":[
{"data":{"name":"red"},"mark":{"type":"circle","size":25,"opacity":1,"color":"#d21a1a","clip":true},
"encoding":{
"x":{"field":"x","type":"quantitative","scale":{"domain":[0,4.185],"nice":false,"zero":false},"axis":{"values":[0,1,2,3,4],"format":"d","title":"log(D²)","labelPadding":4,"titlePadding":6}},
"y":{"field":"y","type":"quantitative","scale":{"domain":[7.293,10.608],"nice":false,"zero":false},"axis":{"values":[7.5,8,8.5,9,9.5,10,10.5],"format":".1f","title":"log(M_HI/M⊙)","labelPadding":3,"titlePadding":8}}
}},
{"data":{"name":"blue"},"mark":{"type":"circle","size":25,"opacity":1,"color":"#2424e0","clip":true},
"encoding":{
"x":{"field":"x","type":"quantitative"},
"y":{"field":"y","type":"quantitative"}
}},
{"data":{"name":"blue"},"transform":[{"filter":"datum.x < -5"}],"mark":{"type":"circle","clip":true},
"encoding":{
"x":{"field":"x","type":"quantitative"},
"y":{"field":"y","type":"quantitative"},
"color":{"datum":"log(Mₛₜₐᵣ/M⊙) ≤ 8.5","type":"nominal","scale":{"domain":["log(Mₛₜₐᵣ/M⊙) ≤ 8.5","log(Mₛₜₐᵣ/M⊙) > 8.5"],"range":["#1e8ff0","#f20000"]},
"legend":{"orient":"none","legendX":356,"legendY":303,"title":null,"fillColor":"white","strokeColor":"#d8d8d8","cornerRadius":5,"padding":12,"symbolType":"circle","symbolSize":75,"symbolOffset":8,"labelOffset":24,"rowPadding":32,"labelLimit":400,"labelFontSize":18,"symbolOpacity":1,"symbolStrokeWidth":0}}
}},
{"data":{"name":"fitr"},"mark":{"type":"line","color":"#ff1010","strokeWidth":1.5,"clip":true},
"encoding":{"x":{"field":"x","type":"quantitative"},"y":{"field":"y","type":"quantitative"}}},
{"data":{"name":"fitb"},"mark":{"type":"line","color":"#0000f0","strokeWidth":1.5,"clip":true},
"encoding":{"x":{"field":"x","type":"quantitative"},"y":{"field":"y","type":"quantitative"}}},
{"data":{"name":"gav"},"mark":{"type":"line","color":"black","strokeWidth":1.5,"clip":true},
"encoding":{"x":{"field":"x","type":"quantitative"},"y":{"field":"y","type":"quantitative"},
"strokeDash":{"datum":"Gavazzi+2012","type":"nominal","scale":{"domain":["Gavazzi+2012"],"range":[[5.5,2.5]]},
"legend":{"orient":"none","legendX":12,"legendY":12,"title":null,"fillColor":"white","strokeColor":"#d8d8d8","cornerRadius":5,"padding":8,"symbolType":"stroke","symbolSize":1850,"symbolStrokeColor":"black","symbolStrokeWidth":1.5,"labelOffset":18}}}}
]
}
